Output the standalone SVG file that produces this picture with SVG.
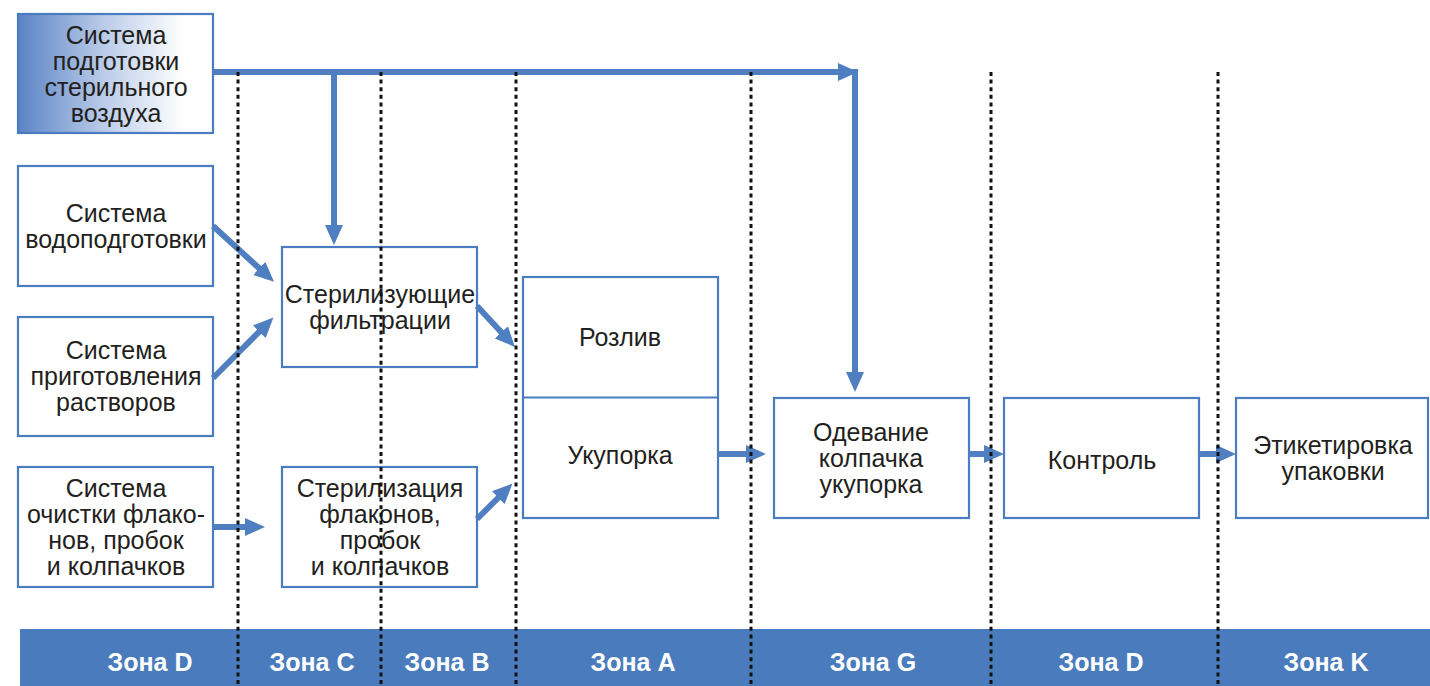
<svg xmlns="http://www.w3.org/2000/svg" width="1430" height="686" viewBox="0 0 1430 686">
  <defs>
    <linearGradient id="airGrad" x1="0" y1="0" x2="1" y2="0">
      <stop offset="0" stop-color="#5b84c6"/>
      <stop offset="0.45" stop-color="#bccde9"/>
      <stop offset="0.85" stop-color="#ffffff"/>
    </linearGradient>
    <marker id="ah" markerUnits="userSpaceOnUse" markerWidth="22" markerHeight="20" refX="1" refY="10" orient="auto" viewBox="0 0 22 20">
      <path d="M0,1 L20,10 L0,19 z" fill="#4f7fc0"/>
    </marker>
    <style>
      .box { fill: #ffffff; stroke: #4a7dc0; stroke-width: 2.2; }
      .txt { font-family: "Liberation Sans", Arial, sans-serif; font-size: 25px; fill: #231f20; text-anchor: middle; }
      .zone { font-family: "Liberation Sans", Arial, sans-serif; font-size: 25px; font-weight: bold; fill: #ffffff; text-anchor: middle; }
      .conn { fill: none; stroke: #4f7fc0; stroke-width: 6; }
      .arr { marker-end: url(#ah); }
      .dot { stroke: #111111; stroke-width: 3; stroke-dasharray: 4 3.6; }
    </style>
  </defs>
  <rect x="0" y="0" width="1430" height="686" fill="#ffffff"/>

  <!-- zone bar -->
  <g id="zone-bar">
    <rect x="20" y="629" width="1410" height="57" fill="#4a7cbd"/>
    <text class="zone" x="150" y="671">Зона D</text>
    <text class="zone" x="312" y="671">Зона C</text>
    <text class="zone" x="447" y="671">Зона B</text>
    <text class="zone" x="633" y="671">Зона A</text>
    <text class="zone" x="873" y="671">Зона G</text>
    <text class="zone" x="1101" y="671">Зона D</text>
    <text class="zone" x="1326" y="671">Зона K</text>
  </g>

  <!-- nodes -->
  <g id="node-air">
    <rect class="box" x="18" y="14" width="195" height="119" style="fill:url(#airGrad)"/>
    <text class="txt" x="116" y="44">Система</text>
    <text class="txt" x="116" y="70">подготовки</text>
    <text class="txt" x="116" y="96">стерильного</text>
    <text class="txt" x="116" y="122">воздуха</text>
  </g>
  <g id="node-water">
    <rect class="box" x="18" y="166" width="195" height="120"/>
    <text class="txt" x="116" y="222">Система</text>
    <text class="txt" x="116" y="248">водоподготовки</text>
  </g>
  <g id="node-solutions">
    <rect class="box" x="18" y="317" width="195" height="119"/>
    <text class="txt" x="116" y="359">Система</text>
    <text class="txt" x="116" y="385">приготовления</text>
    <text class="txt" x="116" y="411">растворов</text>
  </g>
  <g id="node-cleaning">
    <rect class="box" x="18" y="467" width="195" height="120"/>
    <text class="txt" x="116" y="497">Система</text>
    <text class="txt" x="116" y="523">очистки флако-</text>
    <text class="txt" x="116" y="549">нов, пробок</text>
    <text class="txt" x="116" y="575">и колпачков</text>
  </g>
  <g id="node-filtration">
    <rect class="box" x="282" y="247" width="195" height="120"/>
    <text class="txt" x="380" y="303">Стерилизующие</text>
    <text class="txt" x="380" y="329">фильтрации</text>
  </g>
  <g id="node-sterilization">
    <rect class="box" x="282" y="467" width="195" height="120"/>
    <text class="txt" x="380" y="497">Стерилизация</text>
    <text class="txt" x="380" y="523">флаконов,</text>
    <text class="txt" x="380" y="549">пробок</text>
    <text class="txt" x="380" y="575">и колпачков</text>
  </g>
  <g id="node-filling">
    <rect class="box" x="523" y="277" width="195" height="241"/>
    <line x1="523" y1="397.5" x2="718" y2="397.5" stroke="#4a7dc0" stroke-width="2.2"/>
    <text class="txt" x="620" y="346">Розлив</text>
    <text class="txt" x="620" y="464">Укупорка</text>
  </g>
  <g id="node-capping">
    <rect class="box" x="774" y="398" width="195" height="120"/>
    <text class="txt" x="871" y="441">Одевание</text>
    <text class="txt" x="871" y="467">колпачка</text>
    <text class="txt" x="871" y="493">укупорка</text>
  </g>
  <g id="node-control">
    <rect class="box" x="1004" y="398" width="195" height="120"/>
    <text class="txt" x="1102" y="469">Контроль</text>
  </g>
  <g id="node-labeling">
    <rect class="box" x="1236" y="398" width="192" height="120"/>
    <text class="txt" x="1333" y="454">Этикетировка</text>
    <text class="txt" x="1333" y="480">упаковки</text>
  </g>

  <!-- connectors -->
  <g id="connectors">
    <line class="conn arr" x1="213" y1="72" x2="839" y2="72"/>
    <line class="conn arr" x1="855" y1="69" x2="855" y2="373"/>
    <line class="conn arr" x1="334" y1="72" x2="334" y2="226"/>
    <line class="conn arr" x1="213" y1="226" x2="260" y2="269"/>
    <line class="conn arr" x1="213" y1="378" x2="260" y2="331"/>
    <line class="conn arr" x1="477" y1="306" x2="502" y2="333"/>
    <line class="conn arr" x1="213" y1="527" x2="246" y2="527"/>
    <line class="conn arr" x1="477" y1="519" x2="499" y2="497"/>
    <line class="conn arr" x1="718" y1="454" x2="747" y2="454"/>
    <line class="conn arr" x1="969" y1="454" x2="985" y2="454"/>
    <line class="conn arr" x1="1199" y1="454" x2="1217" y2="454"/>
  </g>

  <!-- zone dividers -->
  <g id="dividers">
    <line class="dot" x1="238" y1="72" x2="238" y2="686"/>
    <line class="dot" x1="381" y1="72" x2="381" y2="686"/>
    <line class="dot" x1="516" y1="72" x2="516" y2="686"/>
    <line class="dot" x1="751" y1="72" x2="751" y2="686"/>
    <line class="dot" x1="991" y1="72" x2="991" y2="686"/>
    <line class="dot" x1="1218" y1="72" x2="1218" y2="686"/>
  </g>
</svg>
